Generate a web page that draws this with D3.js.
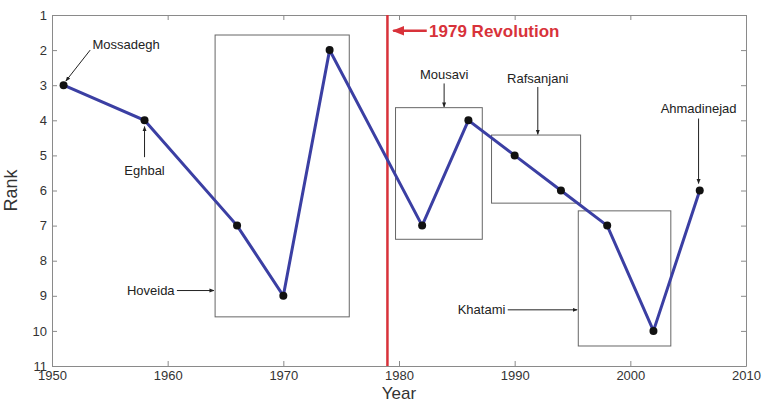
<!DOCTYPE html>
<html>
<head>
<meta charset="utf-8">
<script src="https://cdn.jsdelivr.net/npm/d3@7"></script>
<style>
  body { margin: 0; background: #fff; }
  svg { display: block; font-family: Arial, "Liberation Sans", sans-serif; }
</style>
</head>
<body>
<div id="chart"></div>
<script>
// Data.
var years = [1951, 1958, 1966, 1970, 1974, 1982, 1986, 1990, 1994, 1998, 2002, 2006];
var ranks = [3, 4, 7, 9, 2, 7, 4, 5, 6, 7, 10, 6];
var xTicks = [1950, 1960, 1970, 1980, 1990, 2000, 2010];
var yTicks = [1, 2, 3, 4, 5, 6, 7, 8, 9, 10, 11];
var revolutionYear = 1979;

// Boxes round each era: [yearFrom, yearTo, rankTop, rankBottom]
var boxNames = ['Hoveida', 'Mousavi', 'Rafsanjani', 'Khatami'];
var boxExtents = [[1964.1, 1975.7, 1.57, 9.6], [1979.7, 1987.2, 3.64, 7.39], [1988, 1995.7, 4.42, 6.36], [1995.5, 2003.5, 6.58, 10.43]];

var width = 763, height = 400;
var margin = {top: 15, right: 17, bottom: 34, left: 52};
var plotW = width - margin.left - margin.right;
var plotH = height - margin.top - margin.bottom;

var x = d3.scaleLinear().domain([1950, 2010]).range([0, plotW]);
var y = d3.scaleLinear().domain([1, 11]).range([0, plotH]);

var svg = d3.select('#chart').append('svg')
    .attr('width', width)
    .attr('height', height);

var defs = svg.append('defs');
function marker(id, color) {
    defs.append('marker')
        .attr('id', id)
        .attr('viewBox', '0 0 10 10')
        .attr('refX', 9).attr('refY', 5)
        .attr('markerWidth', 5).attr('markerHeight', 5)
        .attr('orient', 'auto')
      .append('path')
        .attr('d', 'M0,1 L10,5 L0,9 z')
        .attr('fill', color);
}
marker('arrow', '#222');
marker('arrowRed', '#d8323a');

var g = svg.append('g').attr('transform', 'translate(' + margin.left + ',' + margin.top + ')');

var axisColor = '#8a8a8a';

// Axes, MATLAB style: ticks inside on all four sides.
var xAxis = g.append('g').attr('transform', 'translate(0,' + plotH + ')')
    .call(d3.axisBottom(x).tickValues(xTicks).tickFormat(d3.format('d')).tickSizeInner(-5).tickSizeOuter(0).tickPadding(5));
var xTop = g.append('g')
    .call(d3.axisTop(x).tickValues(xTicks).tickFormat('').tickSizeInner(-5).tickSizeOuter(0));
var yAxis = g.append('g')
    .call(d3.axisLeft(y).tickValues(yTicks).tickSizeInner(-5).tickSizeOuter(0).tickPadding(5));
var yRight = g.append('g').attr('transform', 'translate(' + plotW + ',0)')
    .call(d3.axisRight(y).tickValues(yTicks).tickFormat('').tickSizeInner(-5).tickSizeOuter(0));

[xAxis, xTop, yAxis, yRight].forEach(function(a) {
    a.selectAll('path, line').attr('stroke', axisColor);
    a.selectAll('text').attr('fill', '#333').style('font-size', '13px');
});

// Axis labels.
g.append('text')
    .attr('x', plotW / 2).attr('y', plotH + 33)
    .attr('text-anchor', 'middle')
    .style('font-size', '17px').attr('fill', '#333')
    .text('Year');
g.append('text')
    .attr('transform', 'translate(' + (-35) + ',' + (plotH / 2) + ') rotate(-90)')
    .attr('text-anchor', 'middle')
    .style('font-size', '18px').attr('fill', '#333')
    .text('Rank');

// Era boxes.
g.selectAll('rect.era')
    .data(boxExtents)
  .enter().append('rect')
    .attr('class', 'era')
    .attr('x', d => x(d[0]))
    .attr('y', d => y(d[2]))
    .attr('width', d => x(d[1]) - x(d[0]))
    .attr('height', d => y(d[3]) - y(d[2]))
    .attr('fill', 'none')
    .attr('stroke', '#666')
    .attr('stroke-width', 1);

// Revolution line.
g.append('line')
    .attr('x1', x(revolutionYear)).attr('x2', x(revolutionYear))
    .attr('y1', 0).attr('y2', plotH)
    .attr('stroke', '#d8323a').attr('stroke-width', 2.5);

// Rank line.
var line = d3.line()
    .x((d, i) => x(years[i]))
    .y(d => y(d));
g.append('path')
    .datum(ranks)
    .attr('d', line)
    .attr('fill', 'none')
    .attr('stroke', '#3b3fa3')
    .attr('stroke-width', 3);

g.selectAll('circle.pt')
    .data(ranks)
  .enter().append('circle')
    .attr('class', 'pt')
    .attr('cx', (d, i) => x(years[i]))
    .attr('cy', d => y(d))
    .attr('r', 4)
    .attr('fill', '#111');

// Annotations: text at [year, rank], arrow from [year, rank] to [year, rank].
var notes = [
    {text: 'Mossadegh', tx: 1953.5, ty: 1.85, anchor: 'start', from: [1953.3, 2.0], to: [1951.2, 2.88]},
    {text: 'Eghbal', tx: 1958, ty: 5.42, anchor: 'middle', from: [1958, 5.05], to: [1958, 4.18]},
    {text: 'Hoveida', tx: 1960.6, ty: 8.85, anchor: 'end', from: [1960.8, 8.85], to: [1964.0, 8.85]},
    {text: 'Mousavi', tx: 1983.9, ty: 2.7, anchor: 'middle', from: [1983.9, 2.95], to: [1983.9, 3.62]},
    {text: 'Rafsanjani', tx: 1992, ty: 2.8, anchor: 'middle', from: [1992, 3.05], to: [1992, 4.4]},
    {text: 'Ahmadinejad', tx: 2005.9, ty: 3.65, anchor: 'middle', from: [2005.9, 3.95], to: [2005.9, 5.8]},
    {text: 'Khatami', tx: 1989.2, ty: 9.4, anchor: 'end', from: [1989.4, 9.4], to: [1995.4, 9.4]}
];

g.selectAll('line.note')
    .data(notes)
  .enter().append('line')
    .attr('class', 'note')
    .attr('x1', d => x(d.from[0])).attr('y1', d => y(d.from[1]))
    .attr('x2', d => x(d.to[0])).attr('y2', d => y(d.to[1]))
    .attr('stroke', '#222').attr('stroke-width', 1)
    .attr('marker-end', 'url(#arrow)');

g.selectAll('text.note')
    .data(notes)
  .enter().append('text')
    .attr('class', 'note')
    .attr('x', d => x(d.tx)).attr('y', d => y(d.ty))
    .attr('dy', '0.35em')
    .attr('text-anchor', d => d.anchor)
    .style('font-size', '13px').attr('fill', '#222')
    .text(d => d.text);

// Revolution label.
g.append('line')
    .attr('x1', x(1982.4)).attr('y1', y(1.45))
    .attr('x2', x(1979.5)).attr('y2', y(1.45))
    .attr('stroke', '#d8323a').attr('stroke-width', 2.5)
    .attr('marker-end', 'url(#arrowRed)');
g.append('text')
    .attr('x', x(1982.6)).attr('y', y(1.45))
    .attr('dy', '0.35em')
    .style('font-size', '17px').style('font-weight', 'bold')
    .attr('fill', '#d8323a')
    .text('1979 Revolution');
</script>
</body>
</html>
